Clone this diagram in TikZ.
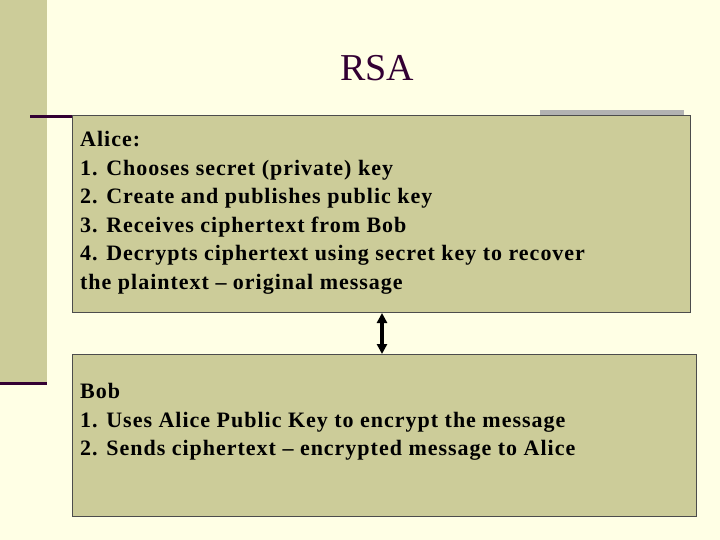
\documentclass[tikz,border=0pt]{standalone}
\usepackage{fontspec}
\setmainfont{Liberation Serif}
\usetikzlibrary{arrows.meta}
\definecolor{bg}{HTML}{FFFFE5}
\definecolor{khaki}{HTML}{CCCC99}
\definecolor{plum}{HTML}{330033}
\tikzset{box/.style={draw=black!70,fill=khaki,line width=1pt,inner sep=0pt},
 txt/.style={anchor=north west,align=left,font=\addfontfeatures{LetterSpace=4.5}\fontsize{22}{28.6}\selectfont\bfseries,inner sep=0pt}}
\begin{document}
\begin{tikzpicture}[x=1pt,y=-1pt]
\fill[bg] (0,0) rectangle (720,540);
\useasboundingbox (0,0) rectangle (720,540);
\fill[khaki] (0,0) rectangle (47,383);
\draw[plum,line width=3pt] (0,383) -- (47,383);
\draw[plum,line width=3pt] (30,117) -- (72,117);
\fill[gray!60] (540,110) rectangle (684,115);
\node[font=\fontsize{38}{40}\selectfont,text=plum] (title) at (377,68) {RSA};
\node[box,minimum width=618pt,minimum height=197pt,anchor=north west] (alice) at (72,115) {};
\node[txt] (at) at (80,131) {Alice:\\1. Chooses secret (private) key\\2. Create and publishes public key\\3. Receives ciphertext from Bob\\4. Decrypts ciphertext using secret key to recover\\the plaintext -- original message};
\node[box,minimum width=624pt,minimum height=162pt,anchor=north west] (bob) at (72,354) {};
\node[txt] (bt) at (80,383) {Bob\\1. Uses Alice Public Key to encrypt the message\\2. Sends ciphertext -- encrypted message to Alice};
\draw[line width=3.5pt,{Triangle[length=10pt,width=10pt]}-{Triangle[length=10pt,width=10pt]}] (alice.south -| 382,0) -- (bob.north -| 382,0);
\end{tikzpicture}
\end{document}
